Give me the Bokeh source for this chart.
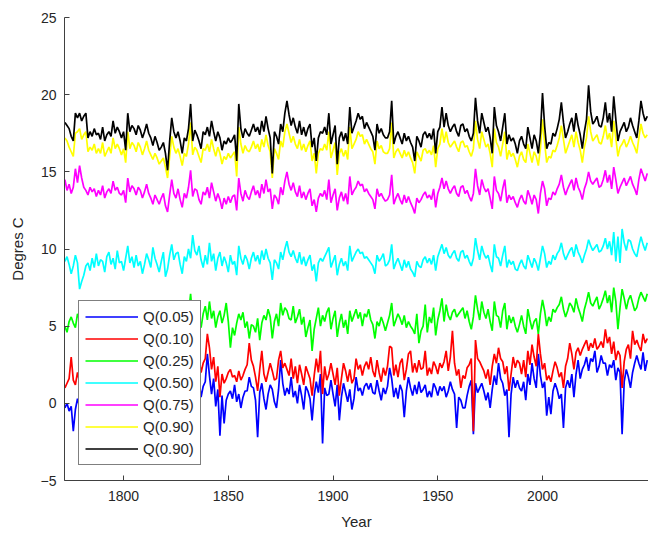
from bokeh.plotting import figure
from bokeh.models import Range1d, FixedTicker, Legend, LegendItem
from bokeh.embed import file_html
from bokeh.resources import INLINE

years = list(range(1772, 2051))

q05 = [-0.3, 0.0, -0.5, -0.2, -1.8, -0.4, 0.3, -0.2, 0.4,
       0.5, -0.6, 0.2, -0.8, 0.6, 0.1, -1.2, 0.4, 0.0,
       0.9, -0.5, 0.3, 0.7, -0.3, 0.5, 1.1, -0.9, 0.3,
       0.2, 0.6, -1.5, 0.8, 0.1, 0.4, -0.6, 0.3, 0.7,
       0.9, -0.2, 0.5, 1.2, -0.8, 0.2, 0.6, -0.4, 0.1,
       -1.3, 0.1, 0.7, -0.5, -1.9, 0.4, 1.0, 0.2, -0.3,
       0.6, -0.7, -1.4, 0.3, 0.0, 0.8, 1.3, 0.2, 0.7,
       0.9, 1.5, 0.4, 1.1, 1.4, 3.2, 1.8, 0.6, 1.6,
       -0.2, 0.9, -2.1, 0.5, -1.3, 0.2, 0.6, 0.8, 0.3,
       1.2, 0.1, 0.6, -0.3, 0.4, 0.8, 0.8, 1.7, 1.1,
       1.0, 0.2, -2.2, 0.7, 1.3, 0.3, -0.4, 0.6, 1.2,
       0.9, 0.1, -0.3, 0.9, 2.8, 1.3, 0.5, 1.0, 0.6,
       1.7, 0.4, 0.8, 0.0, 1.2, 0.5, -0.4, 1.1, 0.8,
       0.3, -1.1, 0.5, 1.4, 0.7, 1.9, -2.6, 1.0, 0.5,
       0.6, 1.5, 0.6, -0.2, 1.2, -1.1, 0.4, 1.3, 0.7,
       0.1, 0.9, -0.4, 0.3, 1.7, 0.8, 1.0, 0.5, 1.1,
       1.3, 0.9, 1.3, 0.7, 0.6, 1.5, 0.8, 0.2, 1.0,
       0.6, 1.1, 2.3, 1.6, 0.4, 1.0, 0.3, 1.2, 0.8,
       -0.9, 0.8, 1.7, 1.0, 0.5, 1.2, 0.6, 1.4, 0.7,
       0.9, 1.2, 0.4, 0.8, 0.4, 1.3, 1.0, 0.5, 1.1,
       0.8, 1.1, 0.4, 0.8, 1.4, 0.9, 0.6, -1.6, 0.4,
       0.2, -0.3, -0.3, 0.5, 1.1, 1.5, -2.0, 1.3, 0.7,
       1.0, 1.3, 0.8, 0.2, 0.7, -0.3, 0.9, 1.8, 1.2,
       2.6, 1.6, 1.3, 0.5, 0.9, -2.2, 0.6, 1.7, 1.0,
       1.5, 1.0, 0.8, 1.4, 0.2, 1.9, 1.2, 2.6, 1.6,
       1.0, 3.2, 1.8, 1.0, 1.4, -0.8, 0.4, -0.7, 0.8,
       1.3, 0.9, 0.3, 0.6, -1.6, 1.0, 1.5, 1.0, 1.9,
       0.4, 1.9, 2.8, 1.6, 2.2, 2.5, 3.0, 2.1, 2.9,
       2.7, 3.4, 2.0, 2.4, 3.1, 2.6, 2.6, 1.8, 2.5,
       2.3, 2.8, 1.5, 2.3, 2.0, -2.0, 1.4, 2.2, 1.7,
       1.0, 2.0, 2.6, 3.1, 2.6, 2.2, 3.3, 2.1, 2.8]

q10 = [1.0, 1.3, 1.6, 3.0, 1.5, 1.2, 2.0, 1.4, 1.7,
       2.2, 1.1, 1.8, 0.9, 2.1, 1.6, 0.6, 1.9, 1.4,
       2.4, 1.0, 1.8, 2.2, 1.2, 2.0, 2.6, 0.8, 1.5,
       1.7, 2.1, 0.2, 2.3, 1.6, 1.9, 1.0, 1.8, 2.2,
       2.4, 1.3, 2.0, 2.7, 0.9, 1.7, 2.1, 1.2, 1.5,
       0.4, 1.6, 2.2, 1.0, -0.3, 1.9, 2.5, 1.7, 1.2,
       2.1, 0.9, 0.3, 1.8, 1.5, 2.3, 2.8, 1.7, 2.2,
       2.4, 2.9, 2.0, 2.6, 2.9, 4.5, 3.6, 2.2, 3.0,
       1.4, 2.4, 0.4, 1.9, 1.3, 1.6, 2.0, 2.2, 1.7,
       1.8, 1.4, 2.1, 1.5, 1.8, 2.2, 2.5, 3.9, 2.8,
       2.4, 1.7, 0.8, 2.2, 3.4, 1.9, 1.4, 2.0, 2.6,
       2.1, 1.5, 1.6, 2.8, 3.4, 2.3, 2.6, 2.2, 1.8,
       2.9, 1.6, 2.4, 1.3, 2.5, 1.9, 1.2, 2.4, 2.0,
       1.6, 0.5, 1.8, 2.9, 2.0, 3.4, 0.6, 2.4, 1.5,
       1.9, 2.6, 1.9, 1.2, 2.3, 0.5, 1.6, 2.6, 2.1,
       1.4, 2.2, 1.3, 1.6, 2.9, 2.2, 2.5, 1.8, 2.4,
       2.7, 2.2, 3.0, 2.1, 1.7, 2.8, 2.0, 1.4, 2.3,
       1.8, 2.4, 3.7, 3.6, 1.8, 2.5, 1.7, 2.6, 2.9,
       1.5, 2.2, 3.2, 3.4, 2.0, 2.6, 2.0, 2.8, 2.2,
       2.3, 3.4, 1.8, 2.3, 1.9, 2.7, 2.4, 1.9, 2.6,
       2.3, 2.7, 3.4, 2.1, 3.0, 4.7, 2.6, 1.8, 2.2,
       1.0, 1.8, 1.6, 2.3, 2.5, 2.9, -1.8, 4.1, 2.9,
       2.7, 2.4, 2.1, 1.6, 2.2, 1.2, 2.4, 3.2, 2.6,
       3.6, 2.9, 2.7, 1.9, 2.4, 0.8, 1.9, 3.0, 2.3,
       2.8, 2.6, 1.9, 2.8, 1.7, 3.4, 2.5, 3.8, 3.0,
       2.4, 4.5, 3.2, 2.2, 2.6, 1.5, 1.8, 1.4, 2.1,
       2.7, 2.3, 1.7, 2.0, 1.0, 2.4, 2.9, 3.9, 3.2,
       2.2, 3.3, 3.6, 3.1, 3.5, 3.8, 4.1, 3.4, 3.9,
       3.6, 4.2, 3.5, 3.7, 4.0, 3.6, 4.8, 3.9, 4.3,
       3.2, 4.0, 2.8, 3.4, 3.1, 1.0, 2.7, 3.5, 3.8,
       2.9, 4.7, 3.8, 4.1, 3.7, 3.4, 4.5, 3.9, 4.2]

q25 = [5.0, 4.6, 5.3, 5.6, 5.2, 4.9, 5.8, 5.4, 5.1,
       4.8, 5.5, 5.1, 5.7, 5.0, 5.4, 5.9, 5.2, 5.5,
       4.7, 5.6, 5.3, 5.8, 5.0, 5.5, 5.9, 5.2, 4.9,
       4.6, 5.7, 5.3, 6.0, 5.4, 5.0, 5.6, 5.2, 5.5,
       5.8, 4.9, 5.4, 6.0, 5.3, 4.8, 5.5, 5.9, 5.3,
       5.1, 4.6, 5.4, 5.0, 4.4, 5.6, 6.0, 5.3, 5.0,
       5.7, 5.0, 4.5, 5.4, 5.1, 5.8, 7.1, 5.4, 6.4,
       6.2, 5.6, 4.9, 5.8, 6.3, 5.4, 6.6, 5.5, 6.0,
       4.9, 5.6, 6.0, 5.2, 5.7, 6.5, 5.3, 3.6, 4.9,
       4.4, 5.2, 5.8, 5.4, 5.9, 4.9, 5.3, 4.2, 5.1,
       5.0, 4.6, 5.5, 4.1, 5.2, 5.7, 5.4, 6.1, 5.6,
       4.2, 5.3, 5.8, 5.0, 6.5, 5.7, 6.2, 6.0, 5.5,
       5.4, 6.3, 5.2, 5.6, 6.1, 5.1, 5.6, 4.3, 4.9,
       5.4, 3.4, 4.8, 5.5, 6.2, 5.0, 5.7, 5.3, 5.9,
       6.2, 4.8, 5.5, 6.0, 4.3, 5.2, 5.8, 4.9, 5.4,
       4.5, 6.0, 5.3, 5.7, 6.1, 5.5, 5.9, 5.0, 5.8,
       5.6, 6.1, 5.4, 5.1, 4.2, 5.3, 5.0, 5.6, 5.2,
       4.7, 5.2, 5.7, 6.5, 5.0, 5.4, 5.8, 5.5, 5.1,
       5.7, 4.9, 5.3, 5.0, 4.8, 4.5, 5.8, 3.9, 4.7,
       5.0, 6.4, 4.6, 5.6, 5.2, 6.2, 4.4, 5.4, 6.0,
       6.8, 5.3, 6.4, 5.7, 5.4, 5.9, 6.1, 5.6, 5.8,
       6.0, 6.2, 5.5, 6.0, 5.3, 4.8, 5.6, 7.0, 6.1,
       5.4, 6.6, 5.9, 5.5, 6.1, 5.3, 4.7, 6.6, 5.7,
       5.6, 4.9, 6.0, 6.5, 4.8, 5.7, 5.2, 5.6, 5.0,
       4.6, 5.1, 5.7, 5.0, 4.5, 6.1, 5.4, 4.8, 5.3,
       5.5, 4.5, 5.8, 6.7, 6.0, 5.0, 5.6, 5.3, 6.1,
       5.9, 6.2, 6.4, 6.9, 6.1, 5.6, 6.0, 6.5, 6.3,
       5.9, 6.8, 6.2, 5.8, 5.3, 6.1, 6.6, 7.2, 6.5,
       6.3, 6.6, 6.9, 6.1, 6.4, 6.8, 7.3, 6.5, 7.0,
       5.9, 7.5, 6.6, 4.8, 6.2, 7.4, 6.8, 6.1, 6.7,
       7.0, 6.5, 6.0, 6.2, 6.8, 7.2, 6.9, 6.6, 7.1]

q50 = [9.2, 9.5, 9.0, 8.4, 8.9, 9.6, 9.1, 7.4, 7.9,
       8.3, 8.9, 9.1, 8.6, 9.4, 8.8, 9.7, 8.9, 9.3,
       9.2, 8.5, 9.5, 9.8, 9.0, 9.4, 8.7, 9.9, 9.1,
       9.2, 8.6, 9.4, 10.2, 9.1, 9.5, 8.8, 9.6, 8.9,
       9.2, 8.4, 9.0, 9.7, 9.3, 8.8, 10.1, 9.4, 9.0,
       8.5, 9.2, 9.8, 8.2, 8.7, 9.6, 10.3, 9.3, 9.7,
       9.8, 9.0, 8.4, 9.5, 9.2, 10.0, 9.4, 10.9, 9.9,
       9.6, 10.2, 9.3, 8.8, 9.6, 9.0, 10.4, 9.2, 9.7,
       8.6, 9.4, 9.8, 8.9, 9.5, 9.1, 8.5, 9.6, 9.0,
       9.2, 8.3, 10.2, 9.4, 9.0, 9.6, 9.3, 8.7, 9.4,
       9.8, 9.2, 9.6, 9.0, 9.9, 9.3, 10.0, 9.4, 9.1,
       8.0, 9.3, 9.1, 8.7, 9.8, 9.3, 10.0, 10.5, 9.8,
       9.5, 9.9, 9.4, 9.1, 9.8, 9.0, 9.5, 8.9, 9.3,
       9.6, 8.6, 9.0, 7.9, 9.1, 9.4, 9.2, 9.5, 9.8,
       10.1, 8.8, 9.2, 9.6, 8.3, 9.0, 9.4, 8.9, 9.2,
       8.6, 10.2, 9.2, 9.5, 9.8, 10.0, 9.7, 9.8, 9.4,
       9.5, 9.3, 9.1, 8.9, 8.4, 9.6, 9.2, 9.4, 9.7,
       8.9, 9.0, 9.3, 10.3, 8.7, 9.1, 9.4, 9.0, 8.6,
       9.3, 8.8, 9.2, 8.7, 8.5, 8.2, 9.2, 8.9, 8.8,
       9.3, 9.5, 9.1, 9.4, 9.0, 9.6, 8.6, 9.5, 9.9,
       10.3, 9.7, 10.1, 9.6, 9.4, 9.7, 9.9, 9.4, 9.2,
       9.8, 9.9, 9.4, 9.6, 9.2, 8.9, 9.4, 10.7, 9.9,
       9.3, 10.2, 9.7, 9.4, 9.6, 9.0, 8.5, 10.3, 9.5,
       9.4, 8.9, 9.6, 10.2, 8.8, 9.3, 9.0, 9.2, 8.7,
       8.6, 9.0, 9.3, 8.9, 8.7, 9.6, 9.2, 8.8, 9.4,
       9.1, 8.6, 9.4, 10.2, 9.7, 8.8, 9.2, 9.0, 9.6,
       9.3, 9.7, 9.9, 10.4, 9.7, 9.3, 9.6, 9.9, 10.1,
       9.5, 10.3, 9.8, 9.5, 9.1, 9.6, 10.0, 10.6, 10.2,
       9.9, 10.1, 10.3, 9.8, 9.9, 10.2, 10.7, 10.0, 10.5,
       9.6, 11.1, 9.2, 10.8, 9.1, 11.3, 10.4, 9.9, 10.6,
       10.5, 10.0, 9.7, 9.5, 10.2, 10.8, 10.3, 9.9, 10.4]

q75 = [14.5, 13.8, 14.2, 13.6, 14.0, 15.2, 14.3, 15.4, 14.6,
       14.0, 13.8, 13.5, 14.0, 13.7, 13.9, 13.4, 13.8, 13.5,
       14.1, 13.3, 13.7, 13.9, 13.6, 14.4, 13.8, 14.0, 13.6,
       13.5, 13.8, 13.0, 14.6, 13.7, 14.1, 13.9, 13.5, 14.0,
       13.8, 13.3, 13.7, 14.2, 13.6, 13.3, 12.9, 13.5, 13.2,
       12.9, 13.3, 13.6, 12.8, 12.4, 13.5, 14.5, 13.6, 13.3,
       13.9, 13.2, 12.7, 13.6, 13.3, 14.0, 15.1, 13.4, 13.9,
       13.8, 13.2, 12.9, 13.7, 13.5, 14.0, 13.3, 14.3, 13.7,
       13.1, 13.6, 13.2, 12.6, 13.3, 12.9, 13.4, 13.0, 13.4,
       13.5, 12.5, 14.6, 13.6, 13.1, 13.8, 13.4, 13.2, 13.7,
       14.1, 13.5, 13.8, 13.3, 14.2, 13.6, 14.5, 13.7, 13.9,
       12.6, 13.5, 13.3, 12.9, 14.0, 13.5, 14.4, 15.0, 14.2,
       13.8, 14.3, 13.7, 13.4, 14.1, 13.3, 13.7, 13.2, 13.6,
       13.9, 12.8, 13.2, 12.4, 13.3, 13.6, 13.4, 13.8, 13.2,
       14.5, 13.0, 13.5, 13.9, 12.5, 13.3, 13.7, 13.1, 13.6,
       12.9, 14.7, 13.5, 13.8, 14.0, 14.4, 14.1, 14.2, 13.7,
       13.9, 13.6, 13.4, 13.2, 12.6, 13.9, 13.4, 13.6, 13.3,
       13.1, 13.2, 13.5, 14.8, 12.9, 13.3, 13.6, 13.2, 12.9,
       13.5, 13.0, 13.4, 13.0, 12.7, 12.3, 13.3, 13.0, 13.2,
       13.5, 13.7, 13.3, 13.5, 13.2, 13.9, 12.7, 13.6, 14.0,
       14.6, 13.9, 14.4, 13.9, 13.6, 13.9, 14.1, 13.6, 13.4,
       14.0, 14.1, 13.6, 13.8, 13.4, 13.1, 13.6, 15.2, 14.1,
       13.5, 14.5, 14.0, 13.7, 13.9, 13.3, 12.6, 14.7, 13.8,
       13.6, 13.1, 13.9, 14.5, 13.0, 13.5, 13.2, 13.4, 13.0,
       12.7, 13.2, 13.5, 13.1, 12.9, 13.8, 13.4, 12.9, 13.5,
       13.2, 12.3, 13.6, 14.4, 13.9, 12.8, 13.3, 13.2, 13.7,
       13.5, 13.9, 14.2, 14.8, 14.0, 13.5, 13.9, 14.2, 14.5,
       13.8, 14.6, 14.0, 13.7, 13.2, 13.9, 14.3, 15.0, 14.4,
       14.2, 14.4, 14.6, 14.0, 14.1, 14.5, 15.1, 14.3, 14.8,
       13.9, 15.3, 14.5, 13.6, 14.0, 14.3, 14.6, 14.1, 14.4,
       14.7, 14.2, 13.9, 13.5, 14.5, 15.2, 14.8, 14.4, 14.9]

q90 = [17.2, 17.0, 16.6, 16.3, 16.0, 17.5, 17.6, 17.8, 17.1,
       17.4, 17.6, 16.3, 16.6, 16.4, 16.8, 16.2, 16.5, 16.2,
       16.9, 16.0, 16.3, 16.6, 16.2, 17.2, 16.5, 16.8, 16.5,
       16.1, 16.5, 15.6, 17.6, 16.5, 16.9, 16.7, 16.3, 16.9,
       16.6, 16.1, 16.5, 17.0, 16.4, 16.1, 15.8, 16.2, 15.9,
       15.5, 15.7, 15.9, 15.3, 14.6, 16.0, 17.3, 16.6, 16.2,
       16.5, 16.0, 15.4, 16.2, 16.0, 16.8, 18.2, 16.1, 16.6,
       16.4, 16.0, 15.6, 16.5, 16.4, 16.8, 16.3, 17.1, 16.5,
       16.0, 16.6, 16.2, 15.5, 16.0, 15.8, 16.2, 15.9, 16.1,
       16.3, 14.7, 17.9, 16.8, 16.2, 16.7, 16.4, 16.3, 16.6,
       17.0, 16.5, 16.8, 16.3, 17.1, 16.6, 17.4, 16.7, 16.3,
       14.6, 16.5, 16.2, 15.8, 17.0, 16.6, 17.6, 18.1, 17.5,
       16.9, 17.3, 16.8, 16.5, 17.1, 16.4, 16.8, 16.3, 16.7,
       17.0, 15.7, 16.2, 14.9, 16.2, 16.5, 16.4, 16.8, 16.4,
       17.6, 15.9, 16.4, 16.9, 14.8, 16.2, 16.5, 16.0, 16.4,
       15.8, 17.9, 16.5, 16.8, 17.1, 17.6, 17.3, 17.4, 16.8,
       17.1, 16.8, 16.5, 16.3, 15.5, 17.0, 16.5, 16.7, 16.3,
       16.2, 16.2, 16.5, 18.2, 15.9, 16.3, 16.5, 16.2, 15.9,
       16.4, 16.0, 16.3, 15.9, 15.6, 14.9, 16.3, 16.0, 15.7,
       16.4, 16.5, 16.2, 16.4, 16.1, 16.7, 15.3, 16.5, 16.8,
       17.8, 16.9, 17.6, 16.9, 16.6, 16.8, 17.0, 16.6, 16.3,
       16.9, 17.0, 16.6, 16.7, 16.3, 16.0, 16.5, 18.3, 17.1,
       16.5, 17.6, 17.1, 16.6, 16.8, 16.2, 15.3, 17.8, 16.9,
       16.6, 16.0, 16.8, 17.6, 15.8, 16.4, 16.0, 16.2, 15.8,
       15.3, 16.0, 16.3, 15.8, 15.6, 16.8, 16.2, 15.6, 16.3,
       16.0, 15.4, 16.5, 18.4, 16.9, 15.6, 16.0, 15.9, 16.4,
       16.3, 16.7, 17.2, 18.0, 17.1, 16.2, 16.6, 17.0, 17.4,
       16.6, 17.6, 16.9, 16.4, 15.6, 16.6, 17.2, 18.6, 17.6,
       17.0, 17.2, 17.4, 16.9, 16.8, 17.3, 18.0, 17.1, 17.5,
       16.6, 18.3, 17.2, 16.0, 16.6, 16.8, 17.1, 16.6, 16.9,
       17.3, 16.9, 16.6, 16.2, 17.2, 18.1, 17.5, 17.2, 17.4]

q90b = [18.2, 18.0, 17.8, 17.3, 17.0, 18.8, 18.5, 18.8, 18.3,
        18.6, 18.8, 17.2, 17.6, 17.3, 17.8, 17.4, 17.5, 17.1,
        17.9, 17.0, 17.4, 17.6, 17.3, 18.3, 17.5, 17.9, 17.6,
        17.2, 17.6, 16.4, 18.8, 17.6, 18.0, 17.8, 17.4, 18.0,
        17.7, 17.2, 17.6, 18.1, 17.5, 17.2, 16.7, 17.3, 16.9,
        16.4, 16.6, 16.9, 16.2, 15.1, 17.0, 18.5, 17.6, 17.2,
        17.6, 17.0, 16.2, 17.2, 17.0, 17.8, 19.4, 17.0, 17.7,
        17.4, 17.0, 16.5, 17.6, 17.4, 17.9, 17.3, 18.3, 17.6,
        17.0, 17.6, 17.2, 16.4, 17.0, 16.8, 17.2, 16.9, 17.1,
        17.4, 15.7, 19.4, 17.8, 17.2, 17.8, 17.5, 17.3, 17.7,
        18.1, 17.6, 17.9, 17.4, 18.3, 17.6, 18.6, 17.8, 17.2,
        14.9, 17.6, 17.3, 16.8, 18.1, 17.6, 18.8, 19.6, 18.7,
        18.0, 18.5, 17.9, 17.5, 18.3, 17.4, 17.9, 17.3, 17.8,
        18.1, 16.6, 17.2, 15.7, 17.2, 17.6, 17.5, 17.9, 17.4,
        18.8, 16.8, 17.4, 18.0, 15.5, 17.2, 17.6, 17.0, 17.5,
        16.8, 19.2, 17.5, 17.9, 18.3, 18.8, 18.4, 18.6, 17.8,
        18.2, 17.9, 17.6, 17.3, 16.4, 18.1, 17.5, 17.8, 17.4,
        17.2, 17.2, 17.6, 19.6, 16.8, 17.3, 17.6, 17.2, 16.8,
        17.5, 17.0, 17.3, 16.9, 16.6, 15.7, 17.3, 17.0, 16.6,
        17.4, 17.6, 17.2, 17.5, 17.1, 17.8, 16.2, 17.6, 17.9,
        19.2, 17.9, 18.8, 18.0, 17.6, 17.9, 18.1, 17.6, 17.3,
        18.0, 18.1, 17.6, 17.8, 17.3, 17.0, 17.5, 19.8, 18.3,
        17.5, 18.8, 18.2, 17.6, 17.9, 17.2, 16.2, 19.2, 18.0,
        17.6, 17.0, 17.9, 18.8, 16.8, 17.4, 17.0, 17.2, 16.8,
        16.2, 17.0, 17.3, 16.8, 16.5, 17.9, 17.2, 16.5, 17.4,
        17.0, 16.2, 17.5, 20.1, 18.0, 16.5, 16.9, 16.8, 17.5,
        17.3, 17.8, 18.4, 19.5, 18.2, 17.2, 17.6, 18.1, 18.5,
        17.6, 18.8, 18.0, 17.4, 16.5, 17.6, 18.4, 20.6, 18.9,
        18.1, 18.3, 18.6, 18.0, 17.9, 18.5, 19.5, 18.2, 18.8,
        17.6, 19.9, 18.4, 17.0, 17.6, 17.9, 18.2, 17.6, 17.9,
        18.5, 18.0, 17.6, 17.2, 18.3, 19.6, 18.8, 18.3, 18.6]

labels = ["Q(0.05)", "Q(0.10)", "Q(0.25)", "Q(0.50)", "Q(0.75)", "Q(0.90)", "Q(0.90)"]
series = [q05, q10, q25, q50, q75, q90, q90b]
colors = ["#0000FF", "#FF0000", "#00FF00", "#00FFFF", "#FF00FF", "#FFFF00", "#000000"]

y_ticks = [-5, 0, 5, 10, 15, 20, 25]
x_ticks = [1800, 1850, 1900, 1950, 2000]

FONT = "Liberation Sans"
TXT = "#262626"

p = figure(width=648, height=533, output_backend="svg", toolbar_location=None,
           x_range=Range1d(1771.8, 2050.6), y_range=Range1d(-5, 25),
           min_border_left=64, min_border_right=0, min_border_top=17, min_border_bottom=53)
p.outline_line_color = None
p.xgrid.grid_line_color = None
p.ygrid.grid_line_color = None
p.background_fill_color = "white"

renderers = []
for vals, c in zip(series, colors):
    r = p.line(years, vals, line_color=c, line_width=1.7)
    renderers.append(r)

for ax in (p.xaxis[0], p.yaxis[0]):
    ax.axis_line_color = "#404040"
    ax.axis_line_width = 1
    ax.major_tick_line_color = "#404040"
    ax.major_tick_in = 5
    ax.major_tick_out = 0
    ax.minor_tick_line_color = None
    ax.major_label_text_font = FONT
    ax.major_label_text_font_size = "14px"
    ax.major_label_text_color = TXT
    ax.axis_label_text_font = FONT
    ax.axis_label_text_font_size = "15px"
    ax.axis_label_text_font_style = "normal"
    ax.axis_label_text_color = TXT

p.xaxis[0].ticker = FixedTicker(ticks=x_ticks)
p.yaxis[0].ticker = FixedTicker(ticks=y_ticks)
p.xaxis[0].axis_label = "Year"
p.yaxis[0].axis_label = "Degres C"
p.xaxis[0].major_label_standoff = 10
p.xaxis[0].axis_label_standoff = 9
p.yaxis[0].major_label_standoff = 8
p.yaxis[0].axis_label_standoff = 12

items = [LegendItem(label=lab, renderers=[r]) for lab, r in zip(labels, renderers)]
legend = Legend(items=items, location=(14, 15), orientation="vertical")
legend.border_line_color = "#000000"
legend.border_line_width = 1
legend.background_fill_color = "white"
legend.background_fill_alpha = 1.0
legend.label_text_font = FONT
legend.label_text_font_size = "15px"
legend.label_text_color = TXT
legend.glyph_width = 53
legend.glyph_height = 19
legend.label_height = 19
legend.spacing = 3
legend.padding = 6
legend.margin = 0
legend.label_standoff = 5
p.add_layout(legend, "center")

open("out.html", "w").write(file_html(p, INLINE))
